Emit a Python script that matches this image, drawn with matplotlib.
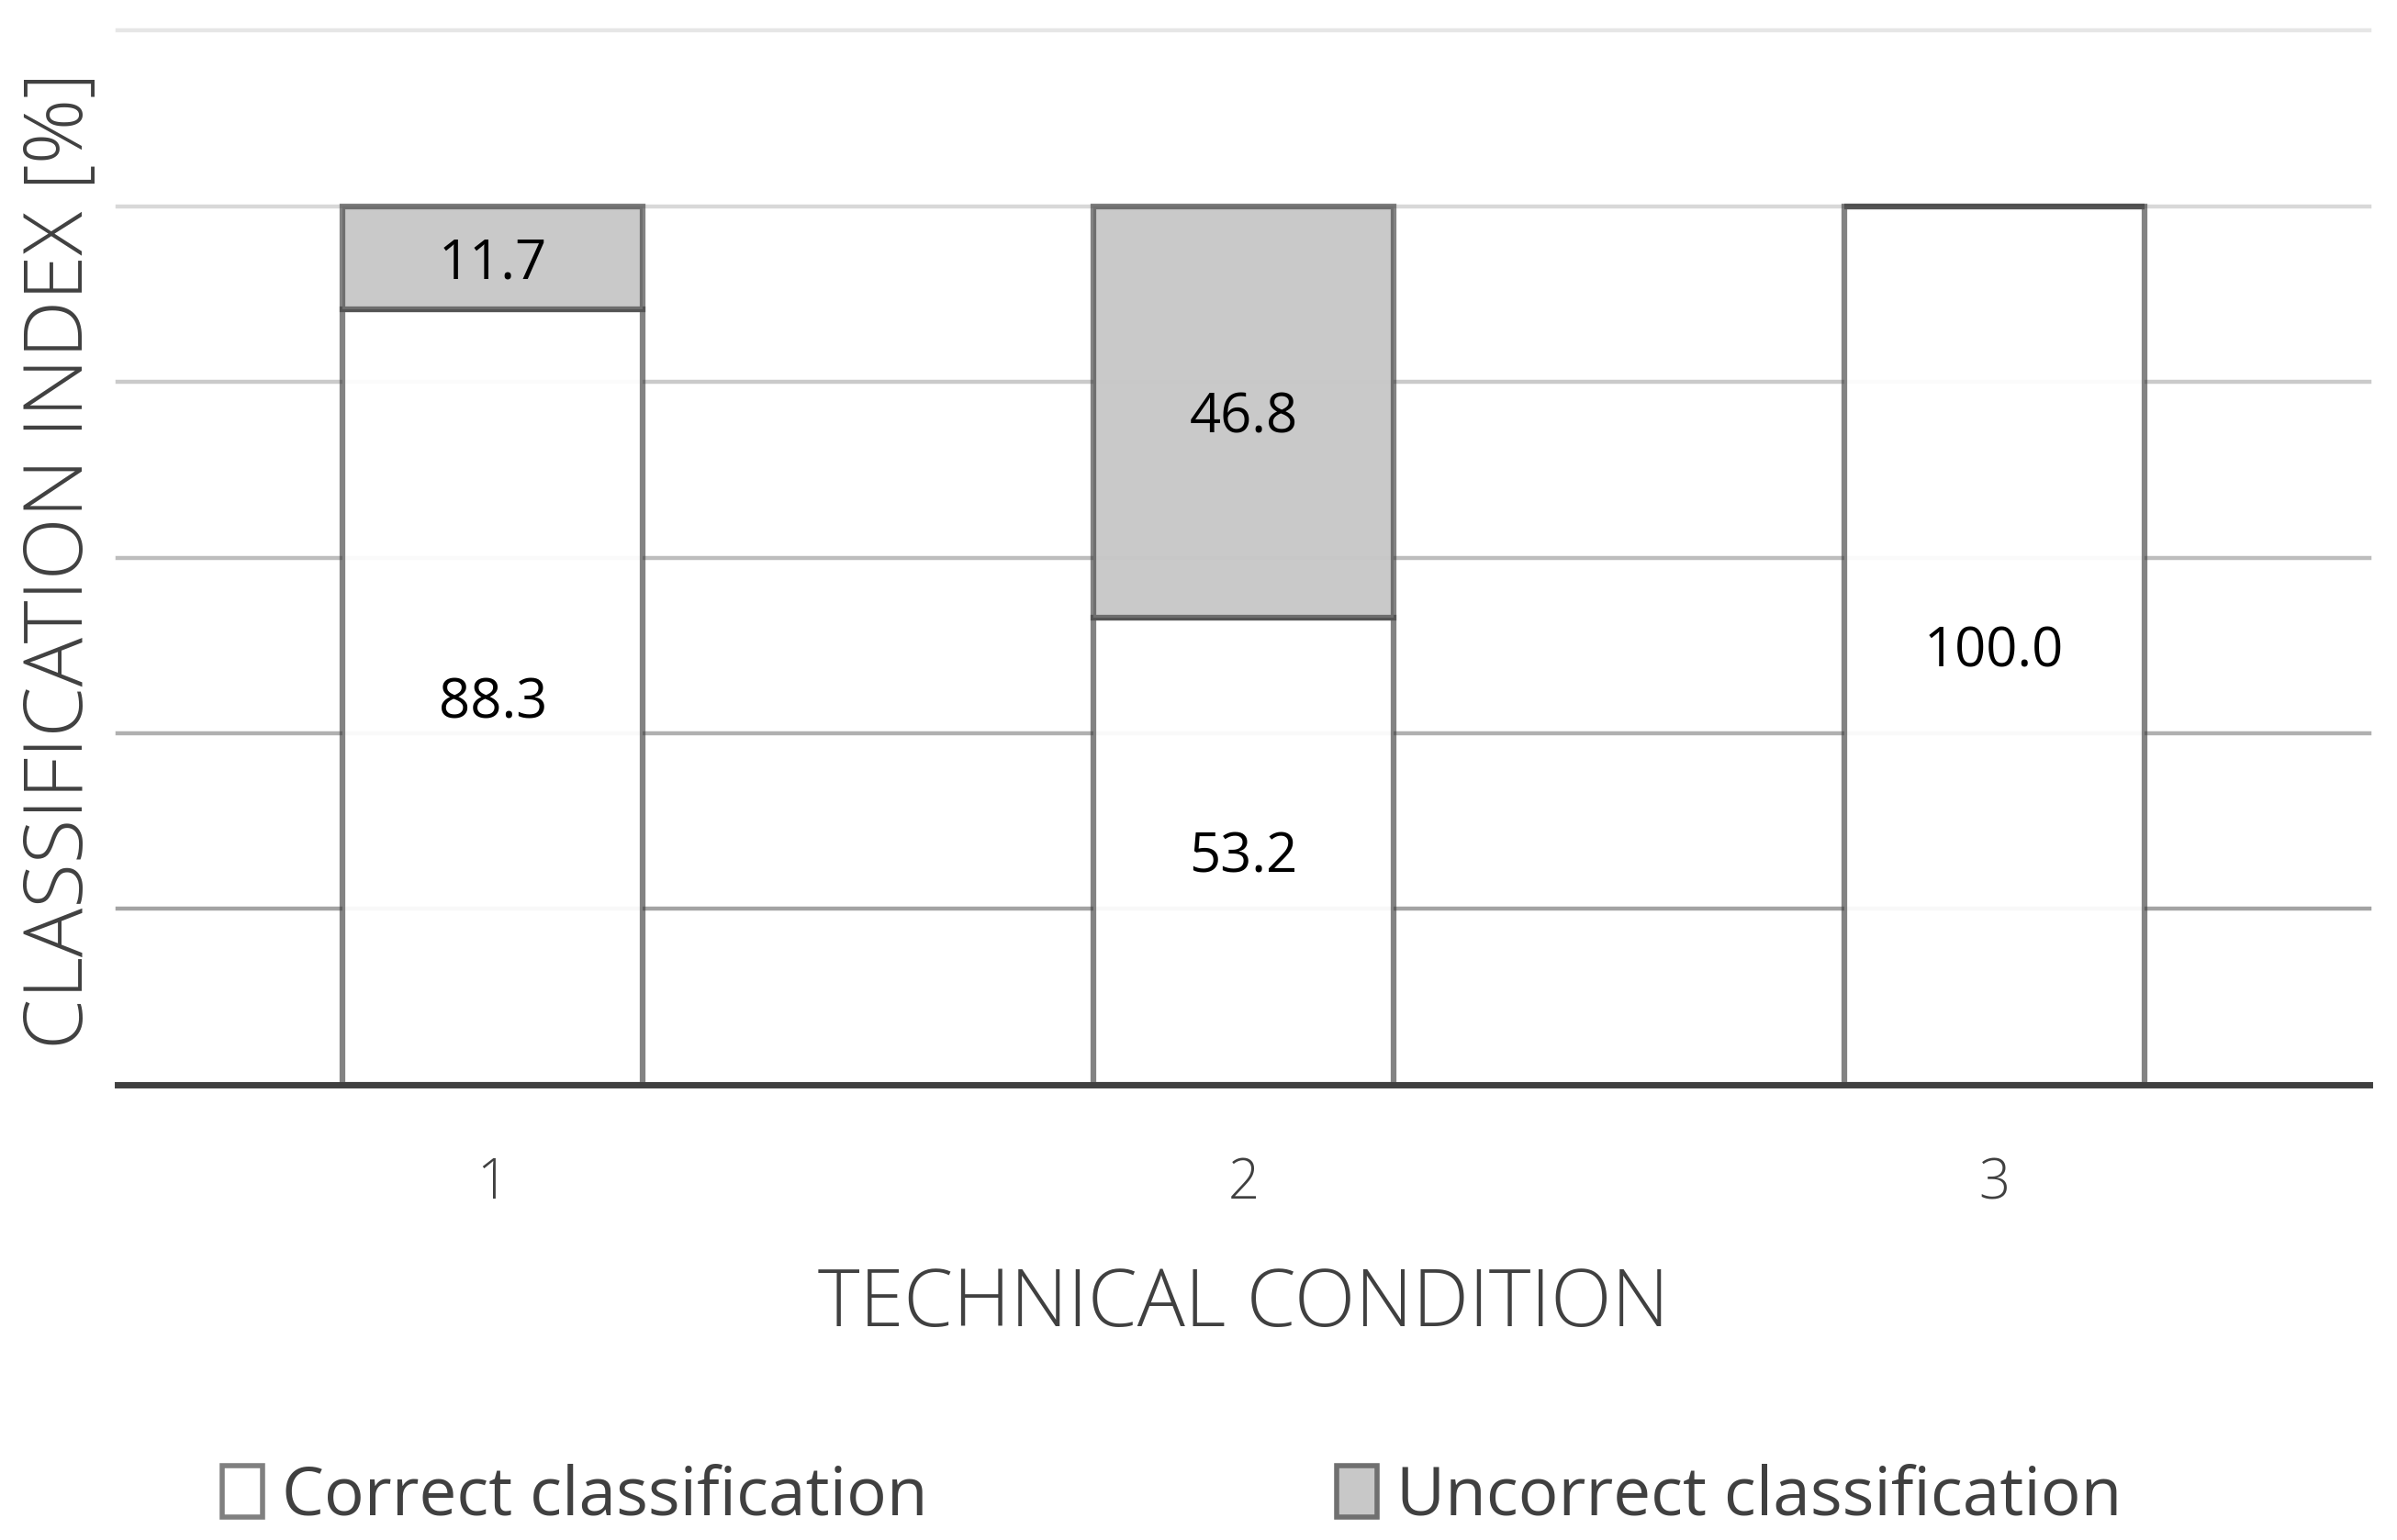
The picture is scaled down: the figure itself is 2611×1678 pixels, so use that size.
import numpy as np
import matplotlib
matplotlib.use('Agg')
import matplotlib.pyplot as plt
from matplotlib import font_manager
from matplotlib.patches import Patch

# data
conditions = ['1', '2', '3']
correct = [88.3, 53.2, 100.0]
uncorrect = [11.7, 46.8, 0.0]
grid_values = [20, 40, 60, 80, 100, 120]
grid_colors = ['#a3a3a3', '#b0b0b0', '#bdbdbd', '#cacaca', '#d8d8d8', '#e6e6e6']

names = {f.name for f in font_manager.fontManager.ttflist}
family = 'Liberation Sans Narrow' if 'Liberation Sans Narrow' in names else 'Open Sans'
plt.rcParams['font.family'] = [family, 'DejaVu Sans']

fig = plt.figure(figsize=(26.11, 16.78), dpi=100)
ax = fig.add_axes([0.0490, 0.2956, 0.9395, 0.6847])

x = np.arange(len(conditions))
edge = (0.22, 0.22, 0.22, 0.62)

for v, c in zip(grid_values, grid_colors):
	ax.axhline(v, color=c, lw=3.2, zorder=0, clip_on=False)

ax.bar(x, correct, width=0.4, facecolor=(1, 1, 1, 0.93), edgecolor=edge, linewidth=4.5, zorder=2)
ax.bar(x, uncorrect, width=0.4, bottom=correct, facecolor=(0.784, 0.784, 0.784, 0.97),
	edgecolor=edge, linewidth=4.5, zorder=2)

# value labels in the middle of each segment
for i in range(len(conditions)):
	ax.text(x[i], correct[i] / 2., '{:.1f}'.format(correct[i]), ha='center', va='center_baseline',
		fontsize=43, color='black', zorder=4)
	if uncorrect[i] > 0:
		ax.text(x[i], correct[i] + uncorrect[i] / 2., '{:.1f}'.format(uncorrect[i]), ha='center',
			va='center_baseline', fontsize=43, color='black', zorder=4)

ax.set_xlim(-0.5, 2.5)
ax.set_ylim(0, 120)
ax.set_xticks(x)
ax.set_xticklabels(conditions, fontweight='light')
ax.set_yticks([])
ax.tick_params(axis='x', length=0, pad=56, labelsize=43, labelcolor='#404040')

for s in ['top', 'right', 'left']:
	ax.spines[s].set_visible(False)
ax.spines['bottom'].set_color('#404040')
ax.spines['bottom'].set_linewidth(5)
ax.spines['bottom'].set_zorder(5)

ax.set_xlabel('TECHNICAL CONDITION', fontsize=62.5, color='#404040', fontweight='light')
ax.xaxis.label.set_va('baseline')
ax.xaxis.set_label_coords(0.5, -0.2289)
ax.set_ylabel('CLASSIFICATION INDEX [%]', fontsize=64, color='#404040', fontweight='light')
ax.yaxis.label.set_va('baseline')
ax.yaxis.set_label_coords(-0.0155, 0.497)

handles = [
	Patch(facecolor='white', edgecolor='#808080', linewidth=4, label='Correct classification'),
	Patch(facecolor='#c8c8c8', edgecolor='#707070', linewidth=4, label='Uncorrect classification'),
]
leg = fig.legend(handles=handles, loc='center', bbox_to_anchor=(0.489, 0.028), ncol=2,
	frameon=False, fontsize=52.5, handlelength=0.6, handleheight=0.8, handletextpad=0.3,
	columnspacing=6.1)
for t in leg.get_texts():
	t.set_color('#404040')

fig.savefig('out.png', dpi=100)
